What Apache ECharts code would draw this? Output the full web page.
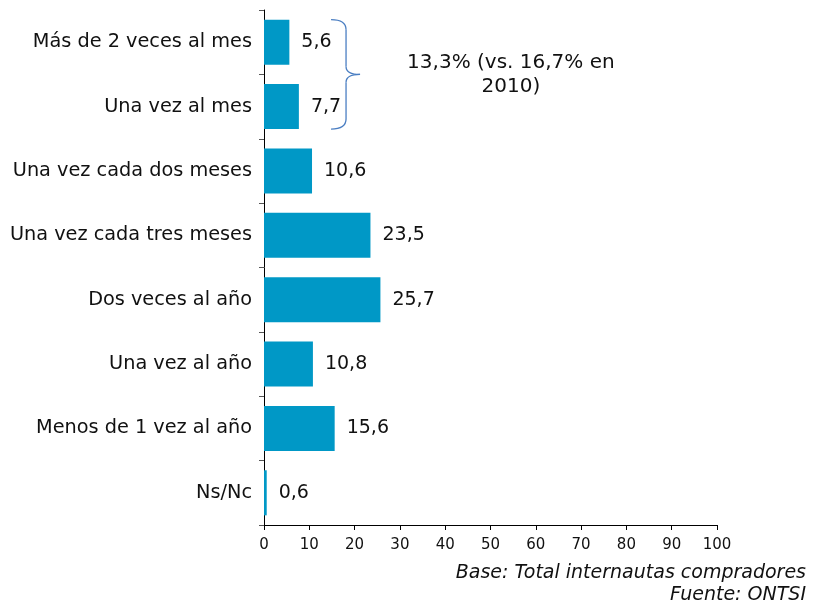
<!DOCTYPE html>
<html>
<head>
<meta charset="utf-8">
<script src="https://cdn.jsdelivr.net/npm/echarts@6/dist/echarts.min.js"></script>
<style>
  html, body { margin: 0; padding: 0; background: #fff; }
  #chart { width: 814px; height: 603px; }
</style>
</head>
<body>
<div id="chart"></div>
<script>
// datos: frecuencia de compra (%)
var categorias = ['Más de 2 veces al mes', 'Una vez al mes', 'Una vez cada dos meses', 'Una vez cada tres meses',
  'Dos veces al año', 'Una vez al año', 'Menos de 1 vez al año', 'Ns/Nc'];
var valores = [5.6, 7.7, 10.6, 23.5, 25.7, 10.8, 15.6, 0.6];
var nota = '13,3% (vs. 16,7% en\n2010)';
var pie1 = 'Base: Total internautas compradores';
var pie2 = 'Fuente: ONTSI';

var fuente = 'Verdana, "DejaVu Sans", sans-serif';
var myChart = echarts.init(document.getElementById('chart'));

var option = {
  backgroundColor: '#fff',
  animation: false,
  grid: { left: 264, right: 97, top: 10, bottom: 78 },
  xAxis: {
    type: 'value',
    min: 0, max: 100, interval: 10,
    axisLine: { show: true, lineStyle: { color: '#000', width: 1 } },
    axisTick: { show: true, length: 5, lineStyle: { color: '#000' } },
    axisLabel: { color: '#111', fontSize: 15, fontFamily: fuente, margin: 13 },
    splitLine: { show: false }
  },
  yAxis: {
    type: 'category',
    inverse: true,
    data: categorias,
    axisLine: { show: true, lineStyle: { color: '#000', width: 1 } },
    axisTick: { show: true, length: 5, lineStyle: { color: '#555' } },
    axisLabel: { color: '#111', fontSize: 19.3, fontFamily: fuente, margin: 12 }
  },
  series: [{
    type: 'bar',
    data: valores,
    barCategoryGap: '30%',
    itemStyle: { color: '#0098C6' },
    label: {
      show: true,
      position: 'right',
      distance: 12,
      color: '#111',
      fontSize: 19,
      fontFamily: fuente,
      formatter: function (p) { return String(p.value).replace('.', ','); }
    }
  }]
};
myChart.setOption(option);

// llave y nota: posiciones calculadas desde las escalas
var yTop = myChart.convertToPixel({ yAxisIndex: 0 }, 0);
var yBot = myChart.convertToPixel({ yAxisIndex: 0 }, 1);
var paso = yBot - yTop;
var y0 = yTop - paso * 0.35;
var y1 = yBot + paso * 0.35;
var ym = (y0 + y1) / 2;
var xb = myChart.convertToPixel({ xAxisIndex: 0 }, 14.8);
var xv = xb + 15;
var estiloLlave = { fill: null, stroke: '#4A7EC2', lineWidth: 1.3 };

myChart.setOption({
  graphic: [
    { type: 'bezierCurve', shape: { x1: xb, y1: y0, x2: xv, y2: y0 + 10, cpx1: xv, cpy1: y0 }, style: estiloLlave },
    { type: 'line', shape: { x1: xv, y1: y0 + 10, x2: xv, y2: ym - 8 }, style: estiloLlave },
    { type: 'bezierCurve', shape: { x1: xv, y1: ym - 8, x2: xv + 14, y2: ym, cpx1: xv, cpy1: ym }, style: estiloLlave },
    { type: 'bezierCurve', shape: { x1: xv + 14, y1: ym, x2: xv, y2: ym + 8, cpx1: xv, cpy1: ym }, style: estiloLlave },
    { type: 'line', shape: { x1: xv, y1: ym + 8, x2: xv, y2: y1 - 10 }, style: estiloLlave },
    { type: 'bezierCurve', shape: { x1: xv, y1: y1 - 10, x2: xb, y2: y1, cpx1: xv, cpy1: y1 }, style: estiloLlave },
    {
      type: 'text',
      x: myChart.convertToPixel({ xAxisIndex: 0 }, 54.5),
      y: ym,
      style: {
        text: nota, fill: '#111', fontSize: 20, fontFamily: fuente,
        align: 'center', verticalAlign: 'middle', lineHeight: 24
      }
    },
    {
      type: 'text', right: 8, top: 564,
      style: { text: pie1, fill: '#111', fontSize: 19, fontStyle: 'italic', fontFamily: fuente }
    },
    {
      type: 'text', right: 8, top: 586,
      style: { text: pie2, fill: '#111', fontSize: 19, fontStyle: 'italic', fontFamily: fuente }
    }
  ]
});
</script>
</body>
</html>
